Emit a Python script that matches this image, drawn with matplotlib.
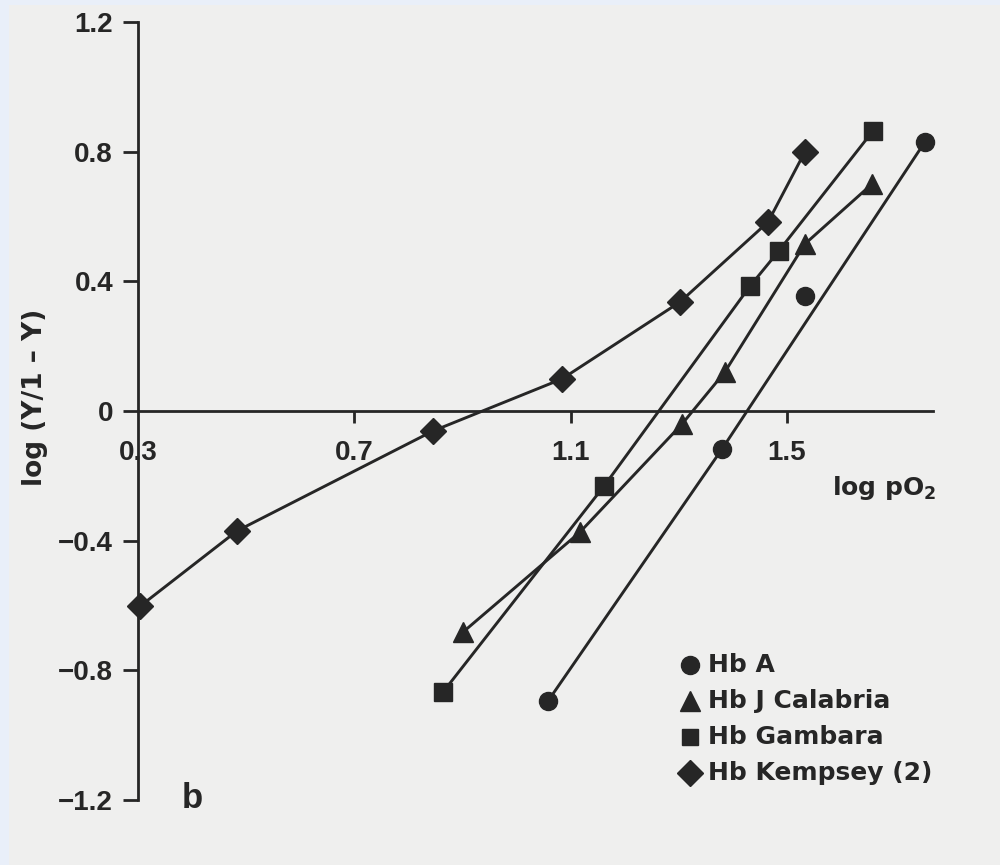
import numpy as np
import matplotlib
matplotlib.use("Agg")
import matplotlib.pyplot as plt
from matplotlib.patches import Rectangle

plt.rcParams['font.family'] = ['Liberation Sans', 'DejaVu Sans']
plt.rcParams['mathtext.default'] = 'regular'

# --- data ---
hba_x = [1.058, 1.380, 1.533, 1.755]
hba_y = [-0.895, -0.117, 0.355, 0.830]
hba_line = [0, 1, 3]   # straight line drawn through these, point 2 sits off it

calabria_x = [0.901, 1.117, 1.306, 1.385, 1.533, 1.657]
calabria_y = [-0.682, -0.374, -0.040, 0.120, 0.515, 0.700]

gambara_x = [0.864, 1.162, 1.432, 1.485, 1.659]
gambara_y = [-0.867, -0.231, 0.386, 0.494, 0.864]

kempsey_x = [0.304, 0.483, 0.845, 1.084, 1.302, 1.465, 1.533]
kempsey_y = [-0.602, -0.370, -0.062, 0.099, 0.336, 0.583, 0.799]

x_ticks = [0.7, 1.1, 1.5]
y_ticks = [-1.2, -0.8, -0.4, 0, 0.4, 0.8, 1.2]
y_ticklabels = ['\u22121.2', '\u22120.8', '\u22120.4', '0', '0.4', '0.8', '1.2']

legend_labels = ['Hb A', 'Hb J Calabria', 'Hb Gambara', 'Hb Kempsey (2)']
legend_markers = ['o', '^', 's', 'D']

ink = '#262626'
wide = ['DejaVu Sans']

fig = plt.figure(figsize=(10, 8.65), dpi=100)
fig.patch.set_facecolor('#e9eff9')
fig.patches.append(Rectangle((0.009, 0), 1, 0.994, transform=fig.transFigure,
                             facecolor='#efefee', edgecolor='none', zorder=-5))

ax = fig.add_axes([0.138, 65 / 865, 0.795, 778 / 865])
ax.set_facecolor('none')
ax.set_zorder(2)
ax.set_xlim(0.3, 1.770)
ax.set_ylim(-1.2, 1.2)

for s in ['top', 'right']:
    ax.spines[s].set_visible(False)
ax.spines['bottom'].set_position(('data', 0))
ax.spines['left'].set_position(('data', 0.3))
for s in ['bottom', 'left']:
    ax.spines[s].set_linewidth(2)
    ax.spines[s].set_color(ink)

ax.set_xticks(x_ticks)
ax.set_xticklabels([])
ax.tick_params(axis='x', direction='out', length=8.5, width=2, color=ink)
ax.set_yticks(y_ticks)
ax.set_yticklabels(y_ticklabels, fontsize=20, fontweight='bold', color=ink)
ax.tick_params(axis='y', direction='out', length=11, width=2, color=ink, pad=7)

# x tick labels sit below the zero line, 0.3 under the y axis
for v in [0.3] + x_ticks:
    ax.annotate(f'{v:.1f}', xy=(v, 0), xytext=(0, -30), textcoords='offset points',
                ha='center', va='center', fontsize=20, fontweight='bold', color=ink,
                annotation_clip=False)

mk = dict(color=ink, markeredgecolor=ink, clip_on=False)
lw = 2.1
ax.plot([hba_x[i] for i in hba_line], [hba_y[i] for i in hba_line],
        color=ink, lw=lw, zorder=2)
ax.plot(hba_x, hba_y, 'o', markersize=13, zorder=3, **mk)
ax.plot(calabria_x, calabria_y, '-^', lw=lw, markersize=14, zorder=3, **mk)
ax.plot(gambara_x, gambara_y, '-s', lw=lw, markersize=13, zorder=3, **mk)
ax.plot(kempsey_x, kempsey_y, '-D', lw=lw, markersize=13, zorder=3, **mk)

# legend as stacked marker + text rows
sizes = {'o': 13, '^': 14, 's': 12, 'D': 13}
for i, (lab, m) in enumerate(zip(legend_labels, legend_markers)):
    yy = 1 - (665 + 36 * i) / 865
    fig.lines.append(plt.Line2D([690 / 1000], [yy], marker=m, color=ink,
                                markersize=sizes[m], transform=fig.transFigure))
    fig.text(708 / 1000, yy, lab, fontsize=18, fontweight='bold', color=ink,
             ha='left', va='center', family=wide)

fig.text(884 / 1000, 1 - 488 / 865, 'log pO$_2$', fontsize=18, fontweight='bold',
         color=ink, ha='center', va='center', family=wide)
fig.text(35 / 1000, 1 - 397 / 865, 'log (Y/1 \u2013 Y)', fontsize=19, fontweight='bold',
         color=ink, ha='center', va='center', rotation=90, family=wide)
fig.text(192 / 1000, 1 - 798 / 865, 'b', fontsize=25, fontweight='bold',
         color=ink, ha='center', va='center')

fig.savefig('out.png', dpi=100, facecolor=fig.get_facecolor())
